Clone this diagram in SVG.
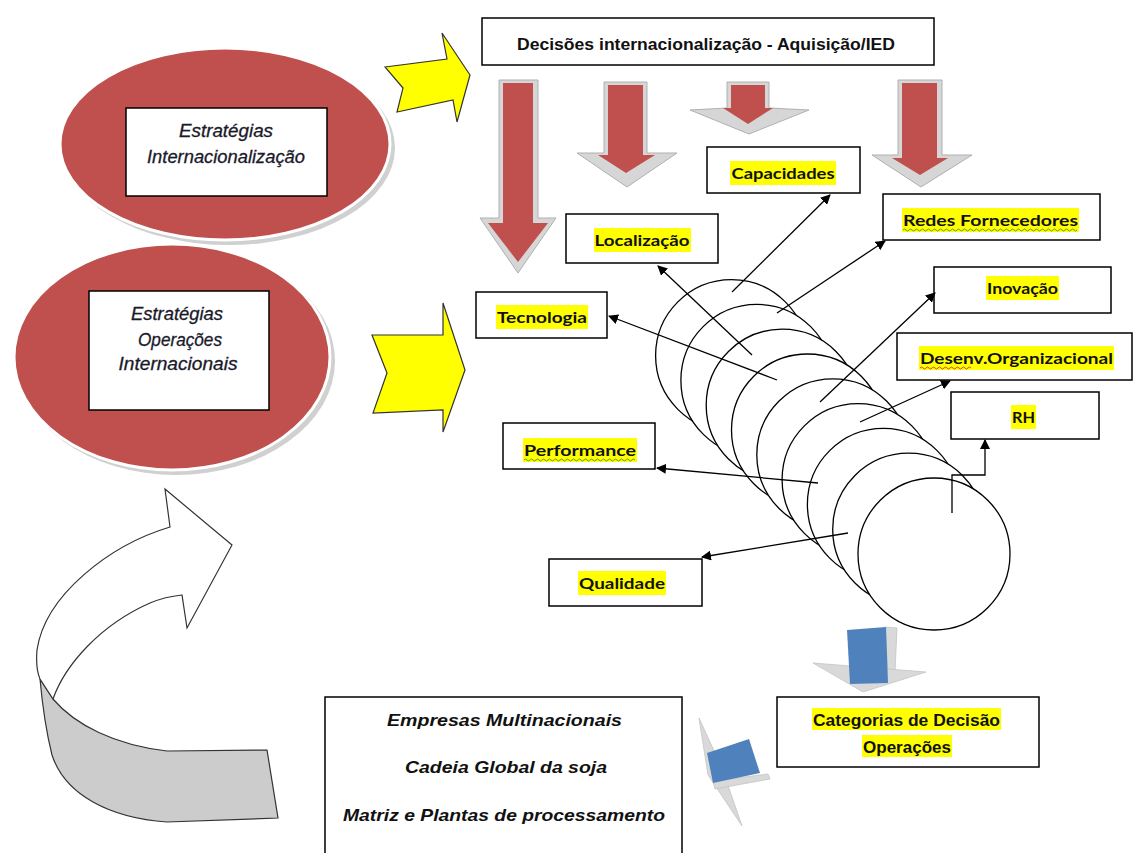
<svg xmlns="http://www.w3.org/2000/svg" width="1135" height="853" viewBox="0 0 1135 853">
<defs>
<style>
.box{fill:#fff;stroke:#000;stroke-width:1.5}
.lbl{font-family:Lato,"Liberation Sans",sans-serif;font-weight:bold;font-size:16px;fill:#111;text-anchor:middle}
.hl{fill:#ffff00}
.ell{fill:#c0504d;stroke:#fff;stroke-width:3}
.ellsh{fill:#d0d0d0}
.itx{font-family:"Liberation Sans",Arial,sans-serif;font-style:italic;font-size:18px;fill:#1a1a2a;stroke:#1a1a2a;stroke-width:0.3;text-anchor:middle}
.nar{font-family:"Liberation Sans Narrow","Liberation Sans",Arial,sans-serif;font-weight:bold;font-size:17px;fill:#111;text-anchor:middle}
.bit{font-family:"Liberation Sans",Arial,sans-serif;font-weight:bold;font-style:italic;font-size:17px;fill:#111;text-anchor:middle}
.yarr{fill:#ffff00;stroke:#333;stroke-width:1.2;stroke-linejoin:miter}
.red{fill:#c0504d}
.bev{fill:#d6d6d6;stroke:#b0b0b0;stroke-width:1}
.blue{fill:#4f81bd}
.flat{fill:#d9d9d9;stroke:#c4c4c4;stroke-width:0.8}
.cyl{fill:#fff;stroke:#000;stroke-width:1.3}
.con{fill:none;stroke:#000;stroke-width:1.3}
.wg{fill:none;stroke:#5a9a3a;stroke-width:1}
.wr{fill:none;stroke:#d04030;stroke-width:1}
</style>
<marker id="ah" viewBox="0 0 10 10" refX="9" refY="5" markerWidth="10" markerHeight="10" markerUnits="userSpaceOnUse" orient="auto">
<path d="M0,0 L10,5 L0,10 z" fill="#000"/>
</marker>
</defs>
<rect width="1135" height="853" fill="#fff"/>

<!-- Ellipse 1 -->
<g id="estrategias-internacionalizacao">
<ellipse class="ellsh" cx="229" cy="148" rx="166" ry="97"/>
<ellipse class="ell" cx="225" cy="144" rx="165" ry="96"/>
<rect class="box" x="126" y="108" width="201" height="88"/>
<text class="itx" x="226" y="137" textLength="94" lengthAdjust="spacingAndGlyphs">Estratégias</text>
<text class="itx" x="226" y="163" textLength="158" lengthAdjust="spacingAndGlyphs">Internacionalização</text>
</g>

<!-- Ellipse 2 -->
<g id="estrategias-operacoes">
<ellipse class="ellsh" cx="176" cy="361" rx="159" ry="114"/>
<ellipse class="ell" cx="172" cy="357" rx="158" ry="113"/>
<rect class="box" x="89" y="291" width="180" height="119"/>
<text class="itx" x="177" y="320" textLength="92" lengthAdjust="spacingAndGlyphs">Estratégias</text>
<text class="itx" x="180" y="346" textLength="84" lengthAdjust="spacingAndGlyphs">Operações</text>
<text class="itx" x="178" y="370" textLength="119" lengthAdjust="spacingAndGlyphs">Internacionais</text>
</g>

<!-- Yellow arrows -->
<g id="yellow-arrow-1">
<polygon class="yarr" points="385,67 447,59 442,33 470,75 457,122 453,100 397,112 403,88"/>
</g>
<g id="yellow-arrow-2">
<polygon class="yarr" points="372,335 443,335 443,303 465,370 443,432 443,410 373,413 387,373"/>
</g>

<!-- Decisões box -->
<g id="decisoes">
<rect class="box" x="482" y="18" width="452" height="47"/>
<text class="nar" x="706" y="50" textLength="378" lengthAdjust="spacingAndGlyphs">Decisões internacionalização - Aquisição/IED</text>
</g>

<!-- Red down arrows -->
<g id="red-arrow-1">
<polygon class="bev" points="499,80 538,80 538,218 556,218 518,273 480,218 499,218"/>
<polygon class="red" points="503,83 533,83 533,223 548,223 518,262 488,223 503,223"/>
</g>
<g id="red-arrow-2">
<polygon class="bev" points="604,82 647,82 647,153 677,153 627,187 577,153 604,153"/>
<polygon class="red" points="608,85 643,85 643,155 655,155 626,173 598,155 608,155"/>
</g>
<g id="red-arrow-3">
<polygon class="bev" points="727,82 769,82 769,108 809,110 749,134 690,110 727,108"/>
<polygon class="red" points="731,85 765,85 765,108 773,108 748,124 723,108 731,108"/>
</g>
<g id="red-arrow-4">
<polygon class="bev" points="898,80 942,80 942,155 972,155 921,187 872,155 898,155"/>
<polygon class="red" points="902,83 937,83 937,158 948,158 920,175 892,158 902,158"/>
</g>

<!-- Cylinder of circles -->
<g id="cylinder">
<circle class="cyl" cx="731.6" cy="355.6" r="76"/>
<circle class="cyl" cx="756.9" cy="380.4" r="76"/>
<circle class="cyl" cx="782.2" cy="405.2" r="76"/>
<circle class="cyl" cx="807.5" cy="430" r="76"/>
<circle class="cyl" cx="832.8" cy="454.8" r="76"/>
<circle class="cyl" cx="858.1" cy="479.6" r="76"/>
<circle class="cyl" cx="883.4" cy="504.4" r="76"/>
<circle class="cyl" cx="908.7" cy="529.2" r="76"/>
<circle class="cyl" cx="934" cy="554" r="76"/>
</g>

<!-- Label boxes -->
<g id="capacidades">
<rect class="box" x="707" y="147" width="153" height="46"/>
<rect class="hl" x="730" y="161" width="106" height="24"/>
<text class="lbl" x="783" y="179" textLength="103" lengthAdjust="spacingAndGlyphs">Capacidades</text>
</g>
<g id="redes-fornecedores">
<rect class="box" x="883" y="194" width="217" height="46"/>
<rect class="hl" x="902" y="208" width="177" height="24"/>
<text class="lbl" x="990.5" y="226" textLength="175" lengthAdjust="spacingAndGlyphs">Redes Fornecedores</text>
<path class="wg" d="M903,230 q1.5,-2 3,0 t3,0 t3,0 t3,0 t3,0 t3,0 t3,0 t3,0 t3,0 t3,0 t3,0 t3,0 t3,0 t3,0 t3,0 t3,0 t3,0 t3,0 t3,0 t3,0 t3,0 t3,0 t3,0 t3,0 t3,0 t3,0 t3,0 t3,0 t3,0 t3,0 t3,0 t3,0 t3,0 t3,0 t3,0 t3,0 t3,0 t3,0 t3,0 t3,0 t3,0 t3,0 t3,0 t3,0 t3,0 t3,0 t3,0 t3,0 t3,0 t3,0 t3,0 t3,0 t3,0 t3,0 t3,0 t3,0 t3,0 t3,0"/>
</g>
<g id="localizacao">
<rect class="box" x="566" y="214" width="152" height="49"/>
<rect class="hl" x="594" y="228" width="97" height="24"/>
<text class="lbl" x="642" y="246" textLength="95" lengthAdjust="spacingAndGlyphs">Localização</text>
</g>
<g id="tecnologia">
<rect class="box" x="476" y="292" width="131" height="46"/>
<rect class="hl" x="496" y="305" width="92" height="24"/>
<text class="lbl" x="542" y="323" textLength="90" lengthAdjust="spacingAndGlyphs">Tecnologia</text>
</g>
<g id="inovacao">
<rect class="box" x="934" y="267" width="177" height="46"/>
<rect class="hl" x="986" y="276" width="73" height="24"/>
<text class="lbl" x="1022.5" y="294" textLength="71" lengthAdjust="spacingAndGlyphs">Inovação</text>
</g>
<g id="desenv-organizacional">
<rect class="box" x="897" y="333" width="235" height="47"/>
<rect class="hl" x="919" y="346" width="195" height="24"/>
<text class="lbl" x="1016.5" y="364" textLength="193" lengthAdjust="spacingAndGlyphs">Desenv.Organizacional</text>
<path class="wr" d="M920,368 q1.5,-2 3,0 t3,0 t3,0 t3,0 t3,0 t3,0 t3,0 t3,0 t3,0 t3,0 t3,0 t3,0 t3,0 t3,0 t3,0 t3,0 t3,0"/>
</g>
<g id="rh">
<rect class="box" x="951" y="392" width="148" height="47"/>
<rect class="hl" x="1011" y="405" width="25" height="24"/>
<text class="lbl" x="1023.5" y="423" textLength="23" lengthAdjust="spacingAndGlyphs">RH</text>
</g>
<g id="performance">
<rect class="box" x="503" y="423" width="152" height="46"/>
<rect class="hl" x="523" y="438" width="114" height="24"/>
<text class="lbl" x="580" y="456" textLength="112" lengthAdjust="spacingAndGlyphs">Performance</text>
<path class="wg" d="M524,460 q1.5,-2 3,0 t3,0 t3,0 t3,0 t3,0 t3,0 t3,0 t3,0 t3,0 t3,0 t3,0 t3,0 t3,0 t3,0 t3,0 t3,0 t3,0 t3,0 t3,0 t3,0 t3,0 t3,0 t3,0 t3,0 t3,0 t3,0 t3,0 t3,0 t3,0 t3,0 t3,0 t3,0 t3,0 t3,0 t3,0 t3,0 t3,0"/>
</g>
<g id="qualidade">
<rect class="box" x="549" y="559" width="153" height="47"/>
<rect class="hl" x="578" y="571" width="88" height="24"/>
<text class="lbl" x="622" y="589" textLength="86" lengthAdjust="spacingAndGlyphs">Qualidade</text>
</g>

<!-- Connectors -->
<g id="connectors">
<line class="con" x1="732" y1="292" x2="830" y2="195" marker-end="url(#ah)"/>
<line class="con" x1="752" y1="355" x2="658" y2="266" marker-end="url(#ah)"/>
<line class="con" x1="777" y1="313" x2="885" y2="241" marker-end="url(#ah)"/>
<line class="con" x1="777" y1="380" x2="609" y2="316" marker-end="url(#ah)"/>
<line class="con" x1="820" y1="402" x2="935" y2="293" marker-end="url(#ah)"/>
<line class="con" x1="860" y1="422" x2="950" y2="381" marker-end="url(#ah)"/>
<polyline class="con" points="952,513 952,475 985,475 985,440" marker-end="url(#ah)"/>
<line class="con" x1="818" y1="483" x2="657" y2="468" marker-end="url(#ah)"/>
<line class="con" x1="848" y1="533" x2="702" y2="557" marker-end="url(#ah)"/>
</g>

<!-- Blue arrows -->
<g id="blue-arrow-down">
<polygon class="flat" points="885,627 897,628 895,672 888,676"/>
<polygon class="flat" points="813,663 926,672 863,692"/>
<polygon class="blue" points="847,630 886,627 888,683 850,684"/>
</g>
<g id="blue-arrow-left">
<polygon class="flat" points="699,718 722,768 742,826 708,775"/>
<polygon class="flat" points="713,781 768,774 770,779 715,789"/>
<polygon class="blue" points="707,753 749,739 760,773 713,783"/>
</g>

<!-- Categorias box -->
<g id="categorias">
<rect class="box" x="777" y="697" width="262" height="70"/>
<rect class="hl" x="812" y="708" width="189" height="22"/>
<rect class="hl" x="862" y="735" width="90" height="22"/>
<text class="nar" x="906.5" y="726" textLength="187" lengthAdjust="spacingAndGlyphs">Categorias de Decisão</text>
<text class="nar" x="907" y="753" textLength="88" lengthAdjust="spacingAndGlyphs">Operações</text>
</g>

<!-- Empresas box -->
<g id="empresas">
<rect class="box" x="325" y="697" width="357" height="170"/>
<text class="bit" x="504.5" y="726" textLength="235" lengthAdjust="spacingAndGlyphs">Empresas Multinacionais</text>
<text class="bit" x="506" y="773" textLength="202" lengthAdjust="spacingAndGlyphs">Cadeia Global da soja</text>
<text class="bit" x="504" y="821" textLength="322" lengthAdjust="spacingAndGlyphs">Matriz e Plantas de processamento</text>
</g>

<!-- Curved arrow -->
<g id="curved-arrow">
<path d="M40,679 L53,699 C75,725 115,745 167,751 L267,750 L278,818 L167,822 C110,818 65,795 52,755 C47,735 43,712 40,679 Z" fill="#cccccc" stroke="#333" stroke-width="1.2"/>
<path d="M232,545 L165,489 L170,527 C110,545 45,595 37,650 C36,662 37,672 40,679 L53,699 C65,665 100,625 150,603 C162,598 172,596 182,595 L187,628 Z" fill="#fff" stroke="#333" stroke-width="1.2"/>
</g>
</svg>
